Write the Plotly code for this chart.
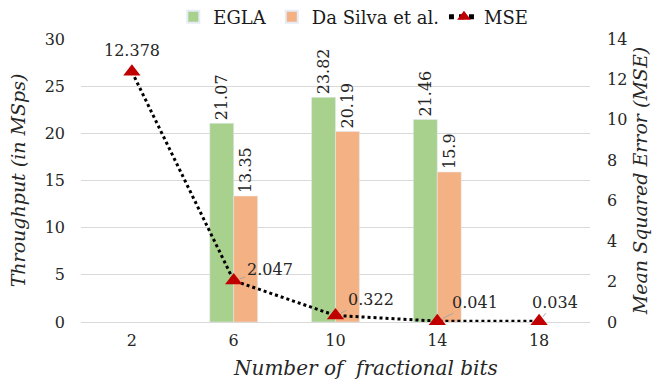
import plotly.graph_objects as go

# Data
bits = ["2", "6", "10", "14", "18"]
egla = [None, 21.07, 23.82, 21.46, None]
da_silva = [None, 13.35, 20.19, 15.9, None]
mse = [12.378, 2.047, 0.322, 0.041, 0.034]
mse_labels = ["12.378", "2.047", "0.322", "0.041", "0.034"]

FONT = "DejaVu Serif"
TXT = "#262626"

fig = go.Figure()

fig.add_trace(go.Bar(
    x=bits, y=egla, name="EGLA", marker_color="#A9D18E",
    text=[f"{v:g}" if v is not None else "" for v in egla],
    textposition="outside", textangle=-90, constraintext="none",
    textfont=dict(family=FONT, size=16, color=TXT),
    cliponaxis=False,
))
fig.add_trace(go.Bar(
    x=bits, y=da_silva, name="Da Silva et al.", marker_color="#F4B183",
    text=[f"{v:g}" if v is not None else "" for v in da_silva],
    textposition="outside", textangle=-90, constraintext="none",
    textfont=dict(family=FONT, size=16, color=TXT),
    cliponaxis=False,
))
fig.add_trace(go.Scatter(
    x=bits, y=mse, name="MSE", yaxis="y2", mode="lines+markers",
    line=dict(color="black", width=3, dash="dot"),
    marker=dict(symbol="triangle-up", size=15, color="#C00000"),
    cliponaxis=False,
))

# Value labels for the MSE series (offsets in pixels, gray leader lines)
offsets = [(0, 0), (36, -11), (35, -16), (38, -19), (16, -19)]
for i, (yv, lab, (dx, dy)) in enumerate(zip(mse, mse_labels, offsets)):
    if dx == 0 and dy == 0:
        fig.add_annotation(x=i, y=yv, xref="x", yref="y2", text=lab,
                           showarrow=False, yshift=21,
                           font=dict(family=FONT, size=16, color=TXT))
    else:
        fig.add_annotation(x=i, y=yv, xref="x", yref="y2", text=lab,
                           showarrow=True, ax=dx, ay=dy,
                           arrowhead=0, arrowwidth=1, arrowcolor="#A6A6A6",
                           standoff=6,
                           font=dict(family=FONT, size=16, color=TXT))

# Horizontal axis title, placed as free text below the tick labels
fig.add_annotation(text="<i>Number of\u00a0 fractional bits</i>",
                   xref="paper", yref="paper", x=0.558, y=-0.163,
                   xanchor="center", yanchor="middle", showarrow=False,
                   font=dict(family=FONT, size=20, color=TXT))

fig.update_layout(
    width=657, height=381,
    margin=dict(l=81, r=67, t=39, b=59, autoexpand=False),
    plot_bgcolor="white", paper_bgcolor="white",
    barmode="group", bargap=0.53, bargroupgap=0,
    font=dict(family=FONT, size=16, color=TXT),
    showlegend=True,
    legend=dict(orientation="h", x=0.535, xanchor="center",
                yref="container", y=0.955, yanchor="middle",
                font=dict(family=FONT, size=18, color="#1a1a1a"),
                itemsizing="constant", traceorder="normal"),
    xaxis=dict(
        type="category", range=[-0.5, 4.5], showgrid=False, showline=False,
        ticks="", ticklabelstandoff=7,
        tickfont=dict(family=FONT, size=16, color=TXT),
    ),
    yaxis=dict(
        range=[0, 30], dtick=5, showgrid=True, gridcolor="#D9D9D9",
        gridwidth=1, zeroline=True, zerolinecolor="#D9D9D9", zerolinewidth=1,
        showline=False, ticks="", ticklabelstandoff=15,
        tickfont=dict(family=FONT, size=16, color=TXT),
        title=dict(text="<i>Throughput (in MSps)</i>",
                   font=dict(family=FONT, size=19, color=TXT), standoff=13),
    ),
    yaxis2=dict(
        overlaying="y", side="right", range=[0, 14], dtick=2,
        showgrid=False, zeroline=False, showline=False, ticks="",
        ticklabelstandoff=16,
        tickfont=dict(family=FONT, size=16, color=TXT),
        title=dict(text="<i>Mean Squared Error (MSE)</i>",
                   font=dict(family=FONT, size=19, color=TXT), standoff=7),
    ),
)

fig.write_html("out.html")
